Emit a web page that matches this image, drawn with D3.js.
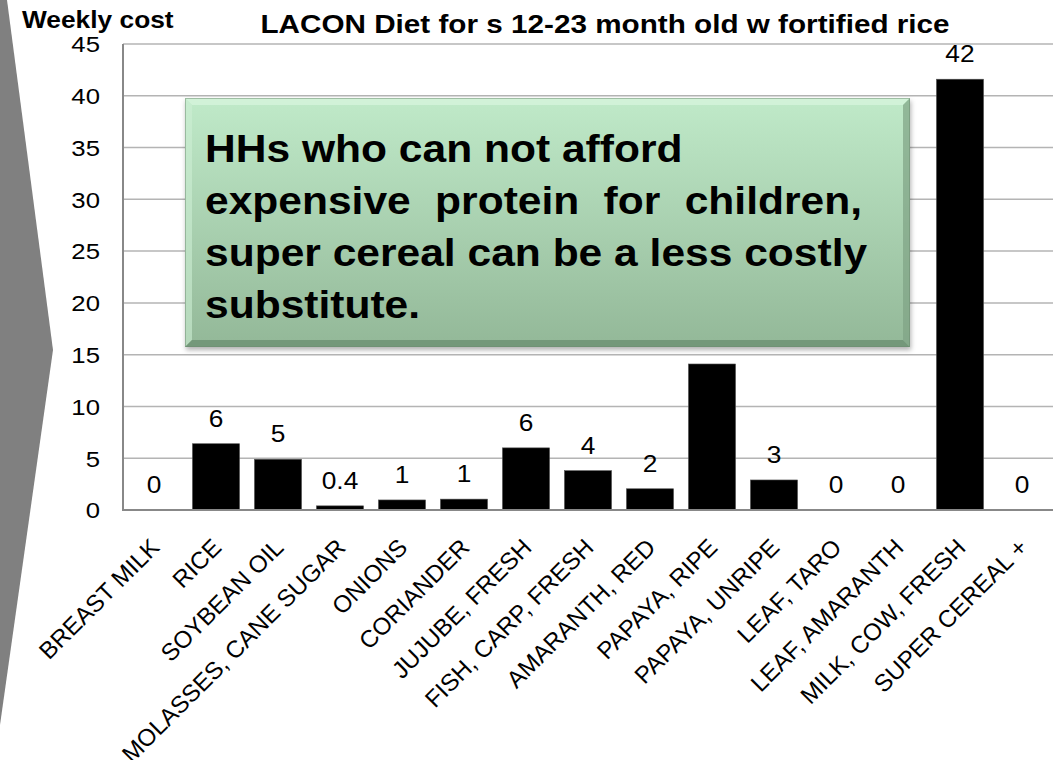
<!DOCTYPE html>
<html>
<head>
<meta charset="utf-8">
<script src="https://cdn.jsdelivr.net/npm/d3@7"></script>
<style>
  html, body { margin: 0; padding: 0; background: #fff; }
  svg { display: block; font-family: "Liberation Sans", Arial, sans-serif; }
</style>
</head>
<body>
<div id="chart"></div>
<script>
// data
const categories = ['BREAST MILK', 'RICE', 'SOYBEAN OIL', 'MOLASSES, CANE SUGAR', 'ONIONS',
  'CORIANDER', 'JUJUBE, FRESH', 'FISH, CARP, FRESH', 'AMARANTH, RED', 'PAPAYA, RIPE',
  'PAPAYA, UNRIPE', 'LEAF, TARO', 'LEAF, AMARANTH', 'MILK, COW, FRESH', 'SUPER CEREAL +']
const weeklyCost = [0, 6.4, 4.9, 0.4, 0.97, 1.05, 6.0, 3.8, 2.05, 14.1, 2.9, 0, 0, 41.6, 0]
const yTicks = [0, 5, 10, 15, 20, 25, 30, 35, 40, 45]
const title = 'LACON Diet for s 12-23 month old w fortified rice'
const yTitle = 'Weekly cost'
const noteLines = ['HHs who can not afford', 'expensive protein for children,',
  'super cereal can be a less costly', 'substitute.']

const width = 1055
const height = 760
const plot = { left: 123, right: 1053, top: 44, bottom: 510 }
const SX = 1.12 // the source picture is a little wide, text follows it

const svg = d3.select('#chart').append('svg')
  .attr('width', width)
  .attr('height', height)

// grey chevron on the left edge
svg.append('path')
  .attr('d', 'M0,0 L7,0 L53,350 L0,725 Z')
  .attr('fill', '#808080')

const x = d3.scaleBand()
  .domain(categories)
  .range([plot.left, plot.right])
  .paddingInner(0.24)
  .paddingOuter(0.12)

const y = d3.scaleLinear()
  .domain([0, 45])
  .range([plot.bottom, plot.top])

const data = categories.map((c, i) => ({ name: c, value: weeklyCost[i] }))
const fmt = v => (v > 0 && v < 0.5) ? d3.format('.1f')(v) : d3.format('.0f')(v)

// grid lines
svg.append('g')
  .selectAll('line')
  .data(yTicks.filter(t => t > 0))
  .enter().append('line')
  .attr('x1', plot.left).attr('x2', plot.right)
  .attr('y1', d => y(d)).attr('y2', d => y(d))
  .attr('stroke', '#b4b4b4')
  .attr('stroke-width', 1.5)

// y tick labels
svg.append('g')
  .selectAll('text')
  .data(yTicks)
  .enter().append('text')
  .attr('transform', d => `translate(100,${y(d)}) scale(${SX},1)`)
  .attr('dy', '0.36em')
  .attr('text-anchor', 'end')
  .attr('font-size', 23)
  .attr('fill', '#000')
  .text(d => d)

// bars
svg.append('g')
  .selectAll('rect')
  .data(data)
  .enter().append('rect')
  .attr('x', d => x(d.name))
  .attr('width', x.bandwidth())
  .attr('y', d => y(d.value))
  .attr('height', d => y(0) - y(d.value))
  .attr('fill', '#000')
  .attr('stroke', '#555')
  .attr('stroke-width', 0.6)

// value labels
svg.append('g')
  .selectAll('text')
  .data(data)
  .enter().append('text')
  .attr('transform', d => `translate(${x(d.name) + x.bandwidth() / 2},${y(d.value) - 17}) scale(${SX},1)`)
  .attr('text-anchor', 'middle')
  .attr('font-size', 23.5)
  .attr('fill', '#000')
  .text(d => fmt(d.value))

// axes lines
svg.append('line')
  .attr('x1', plot.left).attr('x2', plot.left)
  .attr('y1', plot.top).attr('y2', plot.bottom)
  .attr('stroke', '#888').attr('stroke-width', 2)
svg.append('line')
  .attr('x1', plot.left - 1).attr('x2', plot.right)
  .attr('y1', plot.bottom).attr('y2', plot.bottom)
  .attr('stroke', '#888').attr('stroke-width', 2)

// category labels
svg.append('g')
  .selectAll('text')
  .data(categories)
  .enter().append('text')
  .attr('transform', d => `translate(${x(d) + x.bandwidth() / 2 + 1},543) rotate(-45)`)
  .attr('dy', '0.35em')
  .attr('text-anchor', 'end')
  .attr('font-size', 24)
  .attr('fill', '#000')
  .text(d => d)

// titles
svg.append('text')
  .attr('transform', `translate(605,33) scale(${SX},1)`)
  .attr('text-anchor', 'middle')
  .attr('font-size', 26.5)
  .attr('font-weight', 'bold')
  .text(title)

svg.append('text')
  .attr('transform', `translate(22,28) scale(${SX},1)`)
  .attr('font-size', 23.5)
  .attr('font-weight', 'bold')
  .text(yTitle)

// green note box
const box = { x: 185, y: 98, w: 725, h: 249, b: 7 }
const defs = svg.append('defs')
const grad = defs.append('linearGradient')
  .attr('id', 'boxFill').attr('x1', 0).attr('y1', 0).attr('x2', 0).attr('y2', 1)
grad.append('stop').attr('offset', '0%').attr('stop-color', '#c0eac9')
grad.append('stop').attr('offset', '100%').attr('stop-color', '#93b898')
defs.append('filter').attr('id', 'shadow')
  .attr('x', '-5%').attr('y', '-5%').attr('width', '110%').attr('height', '115%')
  .append('feDropShadow')
  .attr('dx', 1).attr('dy', 3).attr('stdDeviation', 2.5)
  .attr('flood-color', '#000').attr('flood-opacity', 0.3)

const note = svg.append('g')
note.append('rect')
  .attr('x', box.x).attr('y', box.y)
  .attr('width', box.w).attr('height', box.h)
  .attr('fill', 'url(#boxFill)')
  .attr('filter', 'url(#shadow)')

const bx0 = box.x, by0 = box.y, bx1 = box.x + box.w, by1 = box.y + box.h, b = box.b
const bevels = [
  { pts: [[bx0, by0], [bx1, by0], [bx1 - b, by0 + b], [bx0 + b, by0 + b]], fill: '#d6f4dc', op: 0.8 },
  { pts: [[bx0, by0], [bx0 + b, by0 + b], [bx0 + b, by1 - b], [bx0, by1]], fill: '#cdeed4', op: 0.6 },
  { pts: [[bx0, by1], [bx0 + b, by1 - b], [bx1 - b, by1 - b], [bx1, by1]], fill: '#6f9274', op: 0.85 },
  { pts: [[bx1, by0], [bx1, by1], [bx1 - b, by1 - b], [bx1 - b, by0 + b]], fill: '#7fa384', op: 0.7 }
]
note.selectAll('polygon')
  .data(bevels)
  .enter().append('polygon')
  .attr('points', d => d.pts.map(p => p.join(',')).join(' '))
  .attr('fill', d => d.fill)
  .attr('fill-opacity', d => d.op)
note.append('rect')
  .attr('x', bx0 + 0.5).attr('y', by0 + 0.5)
  .attr('width', box.w - 1).attr('height', box.h - 1)
  .attr('fill', 'none')
  .attr('stroke', '#6b8a70').attr('stroke-opacity', 0.5)

const noteText = note.selectAll('text.note')
  .data(noteLines)
  .enter().append('text')
  .attr('class', 'note')
  .attr('transform', (d, i) => `translate(205,${162 + i * 52}) scale(${SX},1)`)
  .attr('font-size', 38)
  .attr('font-weight', 'bold')
  .attr('fill', '#000')
  .text(d => d)

// lines 2 and 3 are justified to the same right edge
const justifyWidth = (862 - 205) / SX
noteText.each(function(d, i) {
  if (i === 1 || i === 2) {
    const len = this.getComputedTextLength()
    const gaps = d.split(' ').length - 1
    if (gaps > 0 && len < justifyWidth) {
      d3.select(this).attr('word-spacing', (justifyWidth - len) / gaps)
    }
  }
})
</script>
</body>
</html>
